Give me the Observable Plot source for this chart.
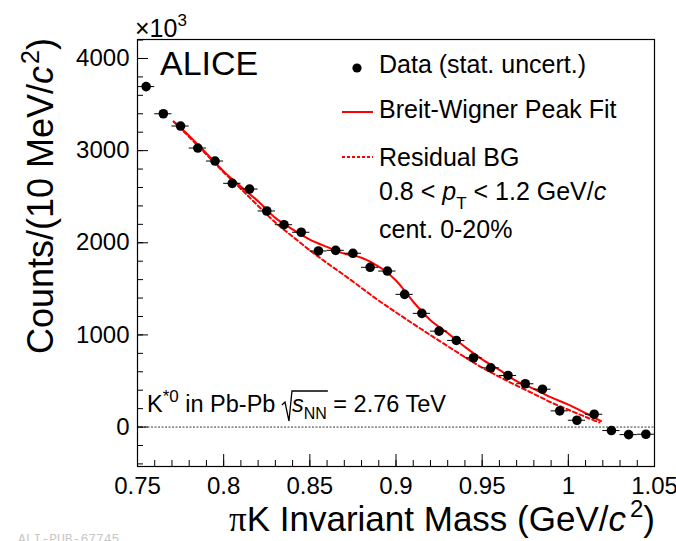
<!DOCTYPE html>
<html><head><meta charset="utf-8">
<script src="https://cdn.jsdelivr.net/npm/d3@7"></script>
<script src="https://cdn.jsdelivr.net/npm/@observablehq/plot@0.6"></script>
<style>
body{margin:0;background:#fff;}
#chart{width:676px;height:541px;overflow:hidden;}
svg{font-family:"Liberation Sans",Arial,Helvetica,sans-serif;}
</style></head><body><div id="chart"></div>
<script>
// Data points: pi-K invariant mass bin centres (GeV/c^2) and counts (x10^3)
const massBins = [0.755,0.765,0.775,0.785,0.795,0.805,0.815,0.825,0.835,0.845,0.855,0.865,0.875,0.885,0.895,0.905,0.915,0.925,0.935,0.945,0.955,0.965,0.975,0.985,0.995,1.005,1.015,1.025,1.035,1.045];
const counts   = [3695,3400,3267,3028,2887,2645,2583,2345,2196,2114,1911,1918,1886,1734,1693,1440,1234,1041,940,752,643,560,470,411,176,74,139,-38,-82,-78];
const binHalfWidth = 0.005;

// Breit-Wigner peak fit
const fitMass   = [0.771,0.78,0.79,0.80,0.81,0.82,0.83,0.84,0.85,0.86,0.87,0.88,0.887,0.893,0.90,0.905,0.91,0.92,0.93,0.94,0.95,0.96,0.97,0.98,0.99,1.00,1.01,1.019];
const fitCounts = [3315,3160,2970,2775,2610,2450,2270,2145,2035,1955,1882,1838,1775,1705,1590,1480,1360,1160,1020,870,735,620,498,415,322,243,150,65];

// Residual background
const bgMass   = [0.771,0.78,0.79,0.80,0.81,0.82,0.83,0.84,0.85,0.86,0.87,0.88,0.89,0.90,0.91,0.92,0.93,0.94,0.95,0.96,0.97,0.98,0.99,1.00,1.01,1.018];
const bgCounts = [3315,3148,2958,2765,2585,2400,2220,2068,1918,1780,1648,1510,1372,1245,1120,998,878,758,645,545,450,360,268,188,110,50];

// Axes
const xTicks = [0.75,0.8,0.85,0.9,0.95,1,1.05];
const xTickLabels = ["0.75","0.8","0.85","0.9","0.95","1","1.05"];
const yTicks = [0,1000,2000,3000,4000];
const yTickLabels = ["0","1000","2000","3000","4000"];
const xDomain = [0.75,1.05];
const yDomain = [-428,4206];

const W=676,H=541,mL=137,mR=22,mT=39,mB=75;
const innerW=W-mL-mR, innerH=H-mT-mB;
const xMinor = d3.range(0,31).map(i=>+(0.75+i*0.01).toFixed(2));
const yMinor = d3.range(-2,22).map(i=>i*200);

const data = massBins.map((m,i)=>({m, c:counts[i]}));
const fit = fitMass.map((m,i)=>({m, c:fitCounts[i]}));
const bg = bgMass.map((m,i)=>({m, c:bgCounts[i]}));

const plot = Plot.plot({
  width:W, height:H, marginLeft:mL, marginRight:mR, marginTop:mT, marginBottom:mB,
  style:{fontFamily:'"Liberation Sans",Arial,sans-serif', color:"#000", background:"#fff", overflow:"visible"},
  x:{domain:xDomain},
  y:{domain:yDomain},
  marks:[
    Plot.ruleY([0], {stroke:"#000", strokeWidth:0.8, strokeDasharray:"2,1.5"}),
    Plot.ruleX(xMinor, {x:d=>d, insetTop:innerH-6, stroke:"#000", strokeWidth:1}),
    Plot.ruleX(xTicks, {x:d=>d, insetTop:innerH-12, stroke:"#000", strokeWidth:1}),
    Plot.ruleY(yMinor.filter(v=>v>yDomain[0]&&v<yDomain[1]), {y:d=>d, insetRight:innerW-6, stroke:"#000", strokeWidth:1}),
    Plot.ruleY(yTicks, {y:d=>d, insetRight:innerW-11, stroke:"#000", strokeWidth:1}),
    Plot.frame({stroke:"#000", strokeWidth:1.2}),
    Plot.axisX(xTicks, {tickSize:0, tickPadding:10, fontSize:24, label:null, tickFormat:d=>xTickLabels[xTicks.indexOf(d)]}),
    Plot.axisY(yTicks, {tickSize:0, tickPadding:8, fontSize:24, label:null, tickFormat:d=>yTickLabels[yTicks.indexOf(d)]}),
    Plot.line(bg, {x:"m", y:"c", stroke:"#ff0000", strokeWidth:2, strokeDasharray:"4,3", curve:"catmull-rom"}),
    Plot.line(fit, {x:"m", y:"c", stroke:"#ff0000", strokeWidth:2, curve:"catmull-rom"}),
    Plot.ruleY(data, {y:"c", x1:d=>d.m-binHalfWidth, x2:d=>d.m+binHalfWidth, stroke:"#000", strokeWidth:1}),
    Plot.dot(data, {x:"m", y:"c", r:4.8, fill:"#000", stroke:"none"})
  ]
});
document.getElementById("chart").appendChild(plot);

const svg = d3.select(plot);
const F = '"Liberation Sans",Arial,sans-serif';

function txt(x,y,size,anchor){
  return svg.append("text").attr("x",x).attr("y",y).attr("text-anchor",anchor||"start")
    .attr("font-size",size).style("font-size",size+"px").style("font-family",F).attr("fill","#000");
}

// x10^3
{
  const t = txt(135,37,25);
  t.append("tspan").attr("font-size",25).style("font-size","25px").text("\u00d710");
  t.append("tspan").attr("dy",-11).attr("font-size",17).style("font-size","17px").text("3");
}

// Y axis title
{
  const t = svg.append("text").attr("transform","translate(53,196) rotate(-90)").attr("text-anchor","middle")
    .style("font-size","36px").style("font-family",F).attr("fill","#000");
  t.append("tspan").text("Counts/(10 MeV/");
  t.append("tspan").style("font-style","italic").text("c");
  t.append("tspan").attr("dy",-14).attr("dx",2).style("font-size","25px").text("2");
  t.append("tspan").attr("dy",14).text(")");
}

// X axis title
{
  const t = svg.append("text").attr("x",655).attr("y",531).attr("text-anchor","end")
    .style("font-size","35px").style("font-family",F).attr("fill","#000");
  t.append("tspan").style("font-family",'"Liberation Serif",serif').text("\u03c0");
  t.append("tspan").text("K Invariant Mass (GeV/");
  t.append("tspan").style("font-style","italic").text("c");
  t.append("tspan").attr("dy",-14).attr("dx",4).style("font-size","24px").text("2");
  t.append("tspan").attr("dy",14).text(")");
}

// ALICE
txt(160,75,34).text("ALICE");

// Legend
svg.append("circle").attr("cx",357).attr("cy",68).attr("r",4.6).attr("fill","#000");
txt(379,73,25).text("Data (stat. uncert.)");
svg.append("line").attr("x1",342).attr("x2",373).attr("y1",112).attr("y2",112).attr("stroke","#ff0000").attr("stroke-width",2);
txt(379,118,25).text("Breit-Wigner Peak Fit");
svg.append("line").attr("x1",342).attr("x2",373).attr("y1",157).attr("y2",157).attr("stroke","#ff0000").attr("stroke-width",2).attr("stroke-dasharray","3,2");
txt(379,166,25).text("Residual BG");
{
  const t = txt(379,200,25);
  t.append("tspan").text("0.8 < ");
  t.append("tspan").style("font-style","italic").text("p");
  t.append("tspan").attr("dy",9).style("font-size","17px").text("T");
  t.append("tspan").attr("dy",-9).text(" < 1.2 GeV/");
  t.append("tspan").style("font-style","italic").text("c");
}
txt(379,238,25).text("cent. 0-20%");

// K*0 label
{
  const t = txt(147,412,23.5);
  t.append("tspan").text("K");
  t.append("tspan").attr("dy",-10).style("font-size","17px").text("*0");
  t.append("tspan").attr("dy",10).text(" in Pb-Pb ");
  t.append("tspan").attr("dx",10).style("font-style","italic").text("s");
  t.append("tspan").attr("dy",7).style("font-size","16px").text("NN");
  t.append("tspan").attr("dy",-7).text(" = 2.76 TeV");
  // radical sign around s_NN
  const node = t.node();
  const full = node.textContent;
  const iS = full.indexOf("s", full.indexOf("Pb-Pb")+5);
  const iN = full.indexOf("NN")+1;
  const s0 = node.getStartPositionOfChar(iS).x;
  const n1 = node.getEndPositionOfChar(iN).x;
  const top = 391, base = 421;
  svg.append("path")
    .attr("d",`M${s0-10},${405} L${s0-7},${402} L${s0-3},${base} L${s0},${top} L${n1+1},${top}`)
    .attr("fill","none").attr("stroke","#000").attr("stroke-width",1.3);
}

// footer id
svg.append("text").attr("x",18).attr("y",543).attr("text-anchor","start").style("font-size","13px").style("font-family",'"Liberation Mono",monospace').attr("fill","#c8c8c8").text("ALI-PUB-67745");
</script>
</body></html>
